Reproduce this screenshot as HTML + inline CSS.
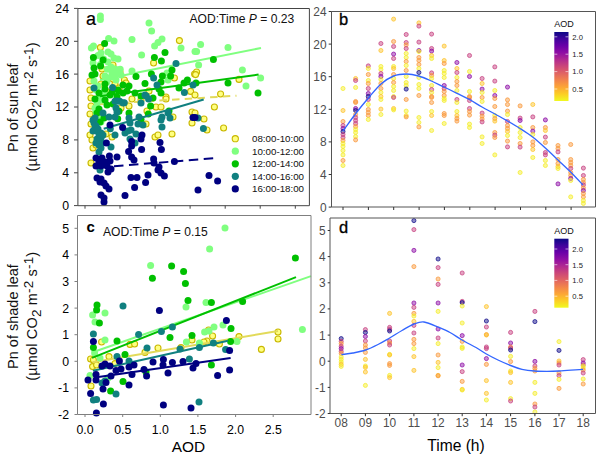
<!DOCTYPE html><html><head><meta charset="utf-8"><title>Pn vs AOD</title><style>
html,body{margin:0;padding:0;background:#fff}svg{display:block}text{font-family:"Liberation Sans",Arial,sans-serif}
.tk{font-size:12.3px;fill:#000}.tg{font-size:11.9px;fill:#4d4d4d}.lg{font-size:9.75px;fill:#111}.cb{font-size:7.6px;fill:#222}
</style></head><body>
<svg width="600" height="466" viewBox="0 0 600 466">
<defs><linearGradient id="pl" x1="0" y1="0" x2="0" y2="1">
<stop offset="0" stop-color="#0d0887"/>
<stop offset="0.1" stop-color="#41049d"/>
<stop offset="0.2" stop-color="#6a00a8"/>
<stop offset="0.3" stop-color="#8f0da4"/>
<stop offset="0.4" stop-color="#b12a90"/>
<stop offset="0.5" stop-color="#cc4778"/>
<stop offset="0.6" stop-color="#e16462"/>
<stop offset="0.7" stop-color="#f2844b"/>
<stop offset="0.8" stop-color="#fca636"/>
<stop offset="0.9" stop-color="#fcce25"/>
<stop offset="1" stop-color="#f0f921"/>
</linearGradient></defs>
<rect width="600" height="466" fill="#fff"/>
<g id="panel-a">
<g fill="#ffff80" stroke="#c9b800" stroke-width="1.1">
<circle cx="179.4" cy="40.6" r="3.0"/>
<circle cx="100.4" cy="47.6" r="3.0"/>
<circle cx="153.6" cy="63.0" r="3.0"/>
<circle cx="113.0" cy="65.0" r="3.0"/>
<circle cx="120.0" cy="72.0" r="3.0"/>
<circle cx="102.0" cy="69.0" r="3.0"/>
<circle cx="174.4" cy="78.0" r="3.0"/>
<circle cx="194.6" cy="74.0" r="3.0"/>
<circle cx="103.0" cy="76.0" r="3.0"/>
<circle cx="90.0" cy="81.0" r="3.0"/>
<circle cx="190.6" cy="91.4" r="3.0"/>
<circle cx="124.4" cy="80.0" r="3.0"/>
<circle cx="166.0" cy="97.0" r="3.0"/>
<circle cx="149.0" cy="91.0" r="3.0"/>
<circle cx="115.0" cy="84.0" r="3.0"/>
<circle cx="101.0" cy="84.0" r="3.0"/>
<circle cx="196.6" cy="72.0" r="3.0"/>
<circle cx="195.6" cy="74.6" r="3.0"/>
<circle cx="239.0" cy="79.4" r="3.0"/>
<circle cx="220.6" cy="94.0" r="3.0"/>
<circle cx="195.0" cy="95.0" r="3.0"/>
<circle cx="91.0" cy="106.0" r="3.0"/>
<circle cx="90.0" cy="114.0" r="3.0"/>
<circle cx="91.0" cy="124.0" r="3.0"/>
<circle cx="90.0" cy="135.0" r="3.0"/>
<circle cx="92.0" cy="140.0" r="3.0"/>
<circle cx="93.0" cy="148.0" r="3.0"/>
<circle cx="91.0" cy="163.0" r="3.0"/>
<circle cx="129.0" cy="106.0" r="3.0"/>
<circle cx="147.0" cy="111.0" r="3.0"/>
<circle cx="146.0" cy="124.0" r="3.0"/>
<circle cx="156.0" cy="107.0" r="3.0"/>
<circle cx="161.0" cy="107.0" r="3.0"/>
<circle cx="173.0" cy="117.0" r="3.0"/>
<circle cx="192.0" cy="112.0" r="3.0"/>
<circle cx="192.0" cy="123.0" r="3.0"/>
<circle cx="172.0" cy="134.0" r="3.0"/>
<circle cx="155.0" cy="137.0" r="3.0"/>
<circle cx="158.0" cy="135.0" r="3.0"/>
<circle cx="112.0" cy="137.0" r="3.0"/>
<circle cx="96.0" cy="145.0" r="3.0"/>
<circle cx="141.0" cy="100.0" r="3.0"/>
<circle cx="166.0" cy="99.0" r="3.0"/>
<circle cx="106.0" cy="134.0" r="3.0"/>
<circle cx="113.0" cy="79.0" r="3.0"/>
<circle cx="126.0" cy="83.0" r="3.0"/>
<circle cx="119.0" cy="88.0" r="3.0"/>
<circle cx="214.4" cy="107.0" r="3.0"/>
<circle cx="204.0" cy="119.0" r="3.0"/>
<circle cx="223.6" cy="128.0" r="3.0"/>
<circle cx="207.0" cy="130.0" r="3.0"/>
<circle cx="195.0" cy="113.0" r="3.0"/>
<circle cx="90.0" cy="90.0" r="3.0"/>
<circle cx="91.0" cy="98.0" r="3.0"/>
<circle cx="108.0" cy="92.0" r="3.0"/>
<circle cx="132.0" cy="99.0" r="3.0"/>
<circle cx="121.0" cy="108.0" r="3.0"/>
</g>
<line x1="96.0" y1="104.5" x2="236.5" y2="95.7" stroke="#e2da5a" stroke-width="2" stroke-dasharray="7.5 5.2"/>
<g fill="#80ff80">
<circle cx="100.4" cy="16.0" r="3.5"/>
<circle cx="100.4" cy="19.4" r="3.5"/>
<circle cx="149.0" cy="23.0" r="3.5"/>
<circle cx="151.6" cy="31.0" r="3.5"/>
<circle cx="132.0" cy="39.4" r="3.5"/>
<circle cx="162.0" cy="39.0" r="3.5"/>
<circle cx="158.0" cy="42.6" r="3.5"/>
<circle cx="154.6" cy="46.0" r="3.5"/>
<circle cx="108.6" cy="38.6" r="3.5"/>
<circle cx="114.0" cy="41.0" r="3.5"/>
<circle cx="91.4" cy="48.0" r="3.5"/>
<circle cx="181.0" cy="48.0" r="3.5"/>
<circle cx="141.6" cy="55.0" r="3.5"/>
<circle cx="195.0" cy="51.4" r="3.5"/>
<circle cx="101.0" cy="53.0" r="3.5"/>
<circle cx="108.0" cy="52.0" r="3.5"/>
<circle cx="111.0" cy="54.0" r="3.5"/>
<circle cx="114.0" cy="58.0" r="3.5"/>
<circle cx="118.0" cy="59.0" r="3.5"/>
<circle cx="93.0" cy="63.0" r="3.5"/>
<circle cx="111.0" cy="67.0" r="3.5"/>
<circle cx="115.0" cy="69.0" r="3.5"/>
<circle cx="118.0" cy="70.0" r="3.5"/>
<circle cx="132.0" cy="71.0" r="3.5"/>
<circle cx="105.0" cy="76.0" r="3.5"/>
<circle cx="111.0" cy="77.0" r="3.5"/>
<circle cx="168.0" cy="80.0" r="3.5"/>
<circle cx="94.0" cy="81.0" r="3.5"/>
<circle cx="167.0" cy="73.0" r="3.5"/>
<circle cx="200.6" cy="44.6" r="3.5"/>
<circle cx="196.6" cy="51.4" r="3.5"/>
<circle cx="228.0" cy="47.6" r="3.5"/>
<circle cx="198.6" cy="65.0" r="3.5"/>
<circle cx="242.4" cy="70.0" r="3.5"/>
<circle cx="260.6" cy="78.0" r="3.5"/>
<circle cx="246.0" cy="86.0" r="3.5"/>
<circle cx="108.0" cy="62.0" r="3.5"/>
<circle cx="112.0" cy="73.0" r="3.5"/>
<circle cx="121.0" cy="75.0" r="3.5"/>
<circle cx="116.0" cy="80.0" r="3.5"/>
<circle cx="98.0" cy="55.4" r="3.5"/>
<circle cx="103.6" cy="59.0" r="3.5"/>
<circle cx="100.4" cy="64.6" r="3.5"/>
<circle cx="107.3" cy="69.2" r="3.5"/>
<circle cx="120.2" cy="69.2" r="3.5"/>
<circle cx="116.5" cy="73.8" r="3.5"/>
<circle cx="93.5" cy="46.0" r="3.5"/>
<circle cx="95.0" cy="108.0" r="3.5"/>
<circle cx="96.0" cy="112.0" r="3.5"/>
<circle cx="99.0" cy="116.0" r="3.5"/>
<circle cx="101.0" cy="122.0" r="3.5"/>
<circle cx="97.0" cy="103.0" r="3.5"/>
<circle cx="102.0" cy="100.0" r="3.5"/>
<circle cx="100.0" cy="96.0" r="3.5"/>
<circle cx="104.0" cy="92.0" r="3.5"/>
<circle cx="96.0" cy="90.0" r="3.5"/>
<circle cx="107.0" cy="82.0" r="3.5"/>
<circle cx="98.0" cy="86.0" r="3.5"/>
</g>
<line x1="100.0" y1="80.0" x2="261.0" y2="48.0" stroke="#80ff80" stroke-width="2"/>
<g fill="#00c000">
<circle cx="104.6" cy="43.4" r="3.5"/>
<circle cx="165.0" cy="52.4" r="3.5"/>
<circle cx="154.4" cy="57.4" r="3.5"/>
<circle cx="161.4" cy="61.0" r="3.5"/>
<circle cx="93.4" cy="57.4" r="3.5"/>
<circle cx="103.0" cy="60.0" r="3.5"/>
<circle cx="100.6" cy="66.0" r="3.5"/>
<circle cx="94.0" cy="68.0" r="3.5"/>
<circle cx="95.0" cy="74.0" r="3.5"/>
<circle cx="92.0" cy="75.0" r="3.5"/>
<circle cx="136.0" cy="76.4" r="3.5"/>
<circle cx="151.4" cy="74.0" r="3.5"/>
<circle cx="162.4" cy="76.0" r="3.5"/>
<circle cx="172.0" cy="70.0" r="3.5"/>
<circle cx="170.6" cy="76.0" r="3.5"/>
<circle cx="145.0" cy="83.4" r="3.5"/>
<circle cx="123.0" cy="85.0" r="3.5"/>
<circle cx="129.0" cy="86.0" r="3.5"/>
<circle cx="105.0" cy="84.0" r="3.5"/>
<circle cx="161.0" cy="82.0" r="3.5"/>
<circle cx="187.4" cy="80.0" r="3.5"/>
<circle cx="184.0" cy="83.0" r="3.5"/>
<circle cx="179.0" cy="88.0" r="3.5"/>
<circle cx="159.0" cy="89.0" r="3.5"/>
<circle cx="135.0" cy="93.0" r="3.5"/>
<circle cx="123.0" cy="93.0" r="3.5"/>
<circle cx="105.0" cy="89.0" r="3.5"/>
<circle cx="99.0" cy="93.0" r="3.5"/>
<circle cx="161.0" cy="93.0" r="3.5"/>
<circle cx="213.4" cy="59.4" r="3.5"/>
<circle cx="228.0" cy="83.0" r="3.5"/>
<circle cx="258.0" cy="93.0" r="3.5"/>
<circle cx="196.0" cy="83.0" r="3.5"/>
<circle cx="95.0" cy="99.0" r="3.5"/>
<circle cx="105.0" cy="100.0" r="3.5"/>
<circle cx="107.0" cy="105.0" r="3.5"/>
<circle cx="99.0" cy="109.0" r="3.5"/>
<circle cx="97.0" cy="113.0" r="3.5"/>
<circle cx="104.0" cy="118.0" r="3.5"/>
<circle cx="100.0" cy="122.0" r="3.5"/>
<circle cx="129.0" cy="113.0" r="3.5"/>
<circle cx="150.6" cy="106.0" r="3.5"/>
<circle cx="169.0" cy="111.0" r="3.5"/>
<circle cx="113.0" cy="104.0" r="3.5"/>
<circle cx="141.0" cy="96.0" r="3.5"/>
<circle cx="117.0" cy="97.0" r="3.5"/>
<circle cx="153.0" cy="98.0" r="3.5"/>
<circle cx="110.0" cy="95.0" r="3.5"/>
<circle cx="112.0" cy="92.0" r="3.5"/>
<circle cx="118.0" cy="90.0" r="3.5"/>
<circle cx="127.0" cy="91.0" r="3.5"/>
<circle cx="141.0" cy="119.3" r="3.5"/>
<circle cx="117.7" cy="118.7" r="3.5"/>
<circle cx="119.0" cy="111.3" r="3.5"/>
<circle cx="148.3" cy="114.0" r="3.5"/>
</g>
<line x1="100.0" y1="96.3" x2="258.6" y2="74.6" stroke="#00c000" stroke-width="2"/>
<g fill="#108080">
<circle cx="176.0" cy="63.4" r="3.5"/>
<circle cx="153.6" cy="78.0" r="3.5"/>
<circle cx="157.0" cy="85.0" r="3.5"/>
<circle cx="94.0" cy="88.0" r="3.5"/>
<circle cx="112.6" cy="87.4" r="3.5"/>
<circle cx="184.4" cy="92.4" r="3.5"/>
<circle cx="145.0" cy="95.0" r="3.5"/>
<circle cx="193.0" cy="85.0" r="3.5"/>
<circle cx="117.0" cy="101.0" r="3.5"/>
<circle cx="123.0" cy="103.0" r="3.5"/>
<circle cx="141.0" cy="103.0" r="3.5"/>
<circle cx="116.0" cy="108.0" r="3.5"/>
<circle cx="117.0" cy="112.0" r="3.5"/>
<circle cx="115.0" cy="117.0" r="3.5"/>
<circle cx="103.0" cy="113.0" r="3.5"/>
<circle cx="109.0" cy="117.0" r="3.5"/>
<circle cx="95.0" cy="118.0" r="3.5"/>
<circle cx="94.0" cy="123.0" r="3.5"/>
<circle cx="95.0" cy="128.0" r="3.5"/>
<circle cx="97.0" cy="131.0" r="3.5"/>
<circle cx="99.0" cy="134.0" r="3.5"/>
<circle cx="101.0" cy="138.0" r="3.5"/>
<circle cx="100.0" cy="141.0" r="3.5"/>
<circle cx="99.0" cy="145.0" r="3.5"/>
<circle cx="129.0" cy="118.0" r="3.5"/>
<circle cx="130.0" cy="123.0" r="3.5"/>
<circle cx="128.0" cy="131.0" r="3.5"/>
<circle cx="125.0" cy="133.0" r="3.5"/>
<circle cx="139.0" cy="117.0" r="3.5"/>
<circle cx="138.0" cy="124.0" r="3.5"/>
<circle cx="143.0" cy="125.0" r="3.5"/>
<circle cx="136.0" cy="134.0" r="3.5"/>
<circle cx="130.0" cy="139.0" r="3.5"/>
<circle cx="135.0" cy="143.0" r="3.5"/>
<circle cx="115.0" cy="135.0" r="3.5"/>
<circle cx="111.0" cy="147.0" r="3.5"/>
<circle cx="99.0" cy="152.0" r="3.5"/>
<circle cx="162.0" cy="117.0" r="3.5"/>
<circle cx="161.0" cy="120.0" r="3.5"/>
<circle cx="162.0" cy="127.0" r="3.5"/>
<circle cx="168.0" cy="113.0" r="3.5"/>
<circle cx="170.0" cy="118.0" r="3.5"/>
<circle cx="100.0" cy="170.0" r="3.5"/>
<circle cx="148.6" cy="99.0" r="3.5"/>
<circle cx="198.0" cy="118.0" r="3.5"/>
<circle cx="203.4" cy="128.4" r="3.5"/>
<circle cx="93.0" cy="120.0" r="3.5"/>
<circle cx="96.0" cy="126.0" r="3.5"/>
<circle cx="93.0" cy="131.0" r="3.5"/>
<circle cx="98.0" cy="129.0" r="3.5"/>
<circle cx="101.0" cy="133.0" r="3.5"/>
<circle cx="103.0" cy="135.0" r="3.5"/>
<circle cx="97.0" cy="139.0" r="3.5"/>
<circle cx="102.0" cy="143.0" r="3.5"/>
<circle cx="96.0" cy="143.0" r="3.5"/>
<circle cx="101.0" cy="148.0" r="3.5"/>
<circle cx="110.3" cy="128.7" r="3.5"/>
<circle cx="115.0" cy="101.3" r="3.5"/>
<circle cx="119.7" cy="101.3" r="3.5"/>
<circle cx="124.3" cy="102.7" r="3.5"/>
<circle cx="131.0" cy="130.0" r="3.5"/>
<circle cx="146.3" cy="96.0" r="3.5"/>
</g>
<line x1="103.7" y1="128.7" x2="203.7" y2="99.5" stroke="#108080" stroke-width="2"/>
<g fill="#000080">
<circle cx="110.0" cy="125.0" r="3.5"/>
<circle cx="122.6" cy="127.6" r="3.5"/>
<circle cx="142.0" cy="135.0" r="3.5"/>
<circle cx="141.0" cy="139.0" r="3.5"/>
<circle cx="131.6" cy="141.6" r="3.5"/>
<circle cx="106.4" cy="143.0" r="3.5"/>
<circle cx="131.6" cy="146.0" r="3.5"/>
<circle cx="160.0" cy="142.4" r="3.5"/>
<circle cx="161.4" cy="149.6" r="3.5"/>
<circle cx="141.6" cy="149.4" r="3.5"/>
<circle cx="128.6" cy="151.6" r="3.5"/>
<circle cx="109.4" cy="156.0" r="3.5"/>
<circle cx="117.0" cy="157.0" r="3.5"/>
<circle cx="131.6" cy="157.0" r="3.5"/>
<circle cx="96.0" cy="158.0" r="3.5"/>
<circle cx="102.0" cy="158.0" r="3.5"/>
<circle cx="134.0" cy="160.0" r="3.5"/>
<circle cx="153.6" cy="159.0" r="3.5"/>
<circle cx="174.4" cy="161.4" r="3.5"/>
<circle cx="99.0" cy="162.0" r="3.5"/>
<circle cx="105.0" cy="162.0" r="3.5"/>
<circle cx="110.0" cy="161.0" r="3.5"/>
<circle cx="96.0" cy="166.0" r="3.5"/>
<circle cx="101.0" cy="166.0" r="3.5"/>
<circle cx="107.0" cy="166.0" r="3.5"/>
<circle cx="111.0" cy="169.0" r="3.5"/>
<circle cx="108.0" cy="172.0" r="3.5"/>
<circle cx="154.0" cy="163.0" r="3.5"/>
<circle cx="159.0" cy="167.0" r="3.5"/>
<circle cx="158.0" cy="170.0" r="3.5"/>
<circle cx="161.0" cy="173.0" r="3.5"/>
<circle cx="164.4" cy="176.0" r="3.5"/>
<circle cx="148.0" cy="175.0" r="3.5"/>
<circle cx="131.0" cy="177.4" r="3.5"/>
<circle cx="137.0" cy="177.4" r="3.5"/>
<circle cx="145.6" cy="182.4" r="3.5"/>
<circle cx="134.6" cy="187.6" r="3.5"/>
<circle cx="97.0" cy="178.0" r="3.5"/>
<circle cx="101.0" cy="179.0" r="3.5"/>
<circle cx="100.0" cy="182.0" r="3.5"/>
<circle cx="104.0" cy="183.0" r="3.5"/>
<circle cx="106.0" cy="186.0" r="3.5"/>
<circle cx="109.0" cy="189.0" r="3.5"/>
<circle cx="193.0" cy="117.4" r="3.5"/>
<circle cx="101.0" cy="195.0" r="3.5"/>
<circle cx="104.0" cy="198.0" r="3.5"/>
<circle cx="104.0" cy="202.0" r="3.5"/>
<circle cx="125.0" cy="195.6" r="3.5"/>
<circle cx="195.0" cy="117.4" r="3.5"/>
<circle cx="209.0" cy="175.4" r="3.5"/>
<circle cx="217.6" cy="181.0" r="3.5"/>
<circle cx="198.0" cy="190.0" r="3.5"/>
</g>
<line x1="114.0" y1="166.2" x2="217.0" y2="158.0" stroke="#000080" stroke-width="2" stroke-dasharray="9.5 5.5"/>
<path d="M77.9 8.5H309.4V205.7H77.9Z" fill="none" stroke="#444" stroke-width="1"/>
<line x1="74" x2="77.9" y1="8.4" y2="8.4" stroke="#444"/>
<text class="tk" x="69" y="12.8" text-anchor="end">24</text>
<line x1="74" x2="77.9" y1="41.3" y2="41.3" stroke="#444"/>
<text class="tk" x="69" y="45.7" text-anchor="end">20</text>
<line x1="74" x2="77.9" y1="74.1" y2="74.1" stroke="#444"/>
<text class="tk" x="69" y="78.5" text-anchor="end">16</text>
<line x1="74" x2="77.9" y1="107.0" y2="107.0" stroke="#444"/>
<text class="tk" x="69" y="111.4" text-anchor="end">12</text>
<line x1="74" x2="77.9" y1="139.9" y2="139.9" stroke="#444"/>
<text class="tk" x="69" y="144.3" text-anchor="end">8</text>
<line x1="74" x2="77.9" y1="172.8" y2="172.8" stroke="#444"/>
<text class="tk" x="69" y="177.2" text-anchor="end">4</text>
<line x1="74" x2="77.9" y1="205.6" y2="205.6" stroke="#444"/>
<text class="tk" x="69" y="210.0" text-anchor="end">0</text>
<line x1="85.0" x2="85.0" y1="205.7" y2="208.7" stroke="#444"/>
<line x1="120.0" x2="120.0" y1="205.7" y2="208.7" stroke="#444"/>
<line x1="155.1" x2="155.1" y1="205.7" y2="208.7" stroke="#444"/>
<line x1="190.1" x2="190.1" y1="205.7" y2="208.7" stroke="#444"/>
<line x1="225.2" x2="225.2" y1="205.7" y2="208.7" stroke="#444"/>
<line x1="260.2" x2="260.2" y1="205.7" y2="208.7" stroke="#444"/>
<line x1="295.3" x2="295.3" y1="205.7" y2="208.7" stroke="#444"/>
<text x="86" y="25" font-size="18px" stroke="#000" stroke-width="0.2">a</text>
<text x="189.5" y="22.6" font-size="12.1px" fill="#111">AOD:Time <tspan font-style="italic">P</tspan> = 0.23</text>
<circle cx="235.3" cy="138.7" r="3.1" fill="#ffff80" stroke="#c9b800" stroke-width="1.1"/>
<text class="lg" x="252" y="142.2">08:00-10:00</text>
<circle cx="235.3" cy="151.2" r="3.6" fill="#80ff80"/>
<text class="lg" x="252" y="154.8">10:00-12:00</text>
<circle cx="235.3" cy="163.8" r="3.6" fill="#00c000"/>
<text class="lg" x="252" y="167.3">12:00-14:00</text>
<circle cx="235.3" cy="176.3" r="3.6" fill="#108080"/>
<text class="lg" x="252" y="179.8">14:00-16:00</text>
<circle cx="235.3" cy="188.9" r="3.6" fill="#000080"/>
<text class="lg" x="252" y="192.4">16:00-18:00</text>
<text transform="translate(17.5,107.7) rotate(-90)" text-anchor="middle" font-size="14.5px" fill="#111">Pn of sun leaf</text>
<text transform="translate(37.3,107) rotate(-90)" text-anchor="middle" textLength="129" font-size="14.5px" fill="#111">(µmol CO<tspan font-size="13.5px" dy="3.5">2</tspan><tspan dy="-3.5"> m</tspan><tspan font-size="13.5px" dy="-4">-2</tspan><tspan dy="4"> s</tspan><tspan font-size="13.5px" dy="-4">-1</tspan><tspan dy="4">)</tspan></text>
</g>
<g id="panel-c">
<g fill="#ffff80" stroke="#c9b800" stroke-width="1.1">
<circle cx="101.6" cy="342.0" r="3.0"/>
<circle cx="130.0" cy="344.4" r="3.0"/>
<circle cx="134.6" cy="344.0" r="3.0"/>
<circle cx="158.0" cy="348.0" r="3.0"/>
<circle cx="145.0" cy="352.4" r="3.0"/>
<circle cx="181.0" cy="347.6" r="3.0"/>
<circle cx="192.0" cy="340.0" r="3.0"/>
<circle cx="109.0" cy="356.6" r="3.0"/>
<circle cx="90.6" cy="359.0" r="3.0"/>
<circle cx="93.4" cy="360.0" r="3.0"/>
<circle cx="92.6" cy="366.6" r="3.0"/>
<circle cx="96.6" cy="365.0" r="3.0"/>
<circle cx="115.0" cy="363.6" r="3.0"/>
<circle cx="91.0" cy="386.0" r="3.0"/>
<circle cx="212.6" cy="336.0" r="3.0"/>
<circle cx="208.6" cy="330.0" r="3.0"/>
<circle cx="207.0" cy="341.0" r="3.0"/>
<circle cx="204.0" cy="342.0" r="3.0"/>
<circle cx="219.4" cy="344.0" r="3.0"/>
<circle cx="239.0" cy="336.6" r="3.0"/>
<circle cx="278.0" cy="332.0" r="3.0"/>
<circle cx="278.0" cy="339.0" r="3.0"/>
<circle cx="261.4" cy="349.4" r="3.0"/>
</g>
<line x1="92.5" y1="362.3" x2="278.0" y2="331.0" stroke="#e2da5a" stroke-width="2"/>
<g fill="#80ff80">
<circle cx="150.6" cy="265.6" r="3.5"/>
<circle cx="186.0" cy="307.0" r="3.5"/>
<circle cx="225.0" cy="228.0" r="3.5"/>
<circle cx="209.6" cy="249.0" r="3.5"/>
<circle cx="206.0" cy="302.4" r="3.5"/>
<circle cx="92.6" cy="315.0" r="3.5"/>
<circle cx="105.0" cy="313.0" r="3.5"/>
<circle cx="95.0" cy="322.0" r="3.5"/>
<circle cx="105.0" cy="340.0" r="3.5"/>
<circle cx="186.4" cy="342.0" r="3.5"/>
<circle cx="94.6" cy="353.0" r="3.5"/>
<circle cx="100.0" cy="358.0" r="3.5"/>
<circle cx="90.0" cy="375.6" r="3.5"/>
<circle cx="214.0" cy="327.0" r="3.5"/>
<circle cx="223.0" cy="325.0" r="3.5"/>
<circle cx="204.6" cy="332.0" r="3.5"/>
<circle cx="209.0" cy="331.0" r="3.5"/>
<circle cx="237.0" cy="341.6" r="3.5"/>
<circle cx="199.4" cy="343.0" r="3.5"/>
<circle cx="302.4" cy="329.6" r="3.5"/>
<circle cx="108.0" cy="378.0" r="3.5"/>
</g>
<line x1="92.0" y1="352.5" x2="311.0" y2="276.1" stroke="#80ff80" stroke-width="2"/>
<g fill="#00c000">
<circle cx="171.6" cy="266.0" r="3.5"/>
<circle cx="183.6" cy="271.6" r="3.5"/>
<circle cx="152.4" cy="278.2" r="3.5"/>
<circle cx="185.4" cy="283.6" r="3.5"/>
<circle cx="188.0" cy="300.6" r="3.5"/>
<circle cx="97.0" cy="305.0" r="3.5"/>
<circle cx="295.4" cy="258.0" r="3.5"/>
<circle cx="211.4" cy="302.4" r="3.5"/>
<circle cx="242.6" cy="301.4" r="3.5"/>
<circle cx="96.6" cy="310.0" r="3.5"/>
<circle cx="99.4" cy="323.0" r="3.5"/>
<circle cx="117.0" cy="341.0" r="3.5"/>
<circle cx="170.0" cy="337.6" r="3.5"/>
<circle cx="192.0" cy="335.6" r="3.5"/>
<circle cx="125.0" cy="354.4" r="3.5"/>
<circle cx="93.4" cy="347.6" r="3.5"/>
<circle cx="123.0" cy="381.4" r="3.5"/>
<circle cx="110.6" cy="391.0" r="3.5"/>
<circle cx="231.0" cy="328.4" r="3.5"/>
<circle cx="230.6" cy="341.4" r="3.5"/>
<circle cx="211.4" cy="365.0" r="3.5"/>
<circle cx="146.0" cy="372.0" r="3.5"/>
</g>
<line x1="92.0" y1="357.9" x2="296.0" y2="277.1" stroke="#00c000" stroke-width="2"/>
<g fill="#108080">
<circle cx="123.0" cy="306.0" r="3.5"/>
<circle cx="93.4" cy="334.0" r="3.5"/>
<circle cx="138.6" cy="334.4" r="3.5"/>
<circle cx="161.4" cy="331.6" r="3.5"/>
<circle cx="172.4" cy="327.0" r="3.5"/>
<circle cx="147.0" cy="348.0" r="3.5"/>
<circle cx="117.0" cy="356.6" r="3.5"/>
<circle cx="129.0" cy="361.0" r="3.5"/>
<circle cx="180.0" cy="349.0" r="3.5"/>
<circle cx="189.4" cy="359.0" r="3.5"/>
<circle cx="105.0" cy="381.0" r="3.5"/>
<circle cx="102.0" cy="383.0" r="3.5"/>
<circle cx="116.0" cy="394.0" r="3.5"/>
<circle cx="199.4" cy="347.6" r="3.5"/>
<circle cx="213.4" cy="343.0" r="3.5"/>
<circle cx="225.6" cy="349.4" r="3.5"/>
<circle cx="93.4" cy="400.0" r="3.5"/>
<circle cx="96.6" cy="399.4" r="3.5"/>
<circle cx="199.0" cy="402.0" r="3.5"/>
</g>
<line x1="93.0" y1="370.8" x2="228.0" y2="340.7" stroke="#108080" stroke-width="2"/>
<g fill="#000080">
<circle cx="159.4" cy="310.4" r="3.5"/>
<circle cx="93.4" cy="341.4" r="3.5"/>
<circle cx="119.4" cy="361.0" r="3.5"/>
<circle cx="105.0" cy="364.0" r="3.5"/>
<circle cx="102.0" cy="366.0" r="3.5"/>
<circle cx="110.0" cy="366.0" r="3.5"/>
<circle cx="134.0" cy="365.0" r="3.5"/>
<circle cx="129.0" cy="367.0" r="3.5"/>
<circle cx="121.0" cy="369.0" r="3.5"/>
<circle cx="116.0" cy="370.4" r="3.5"/>
<circle cx="144.0" cy="369.4" r="3.5"/>
<circle cx="153.0" cy="362.0" r="3.5"/>
<circle cx="163.4" cy="359.4" r="3.5"/>
<circle cx="163.0" cy="365.0" r="3.5"/>
<circle cx="172.4" cy="362.4" r="3.5"/>
<circle cx="183.0" cy="361.4" r="3.5"/>
<circle cx="193.0" cy="368.0" r="3.5"/>
<circle cx="168.0" cy="373.0" r="3.5"/>
<circle cx="146.6" cy="376.0" r="3.5"/>
<circle cx="132.0" cy="374.4" r="3.5"/>
<circle cx="111.0" cy="376.0" r="3.5"/>
<circle cx="96.0" cy="374.4" r="3.5"/>
<circle cx="88.0" cy="380.0" r="3.5"/>
<circle cx="96.0" cy="380.0" r="3.5"/>
<circle cx="106.0" cy="382.4" r="3.5"/>
<circle cx="129.0" cy="385.0" r="3.5"/>
<circle cx="103.0" cy="389.0" r="3.5"/>
<circle cx="90.6" cy="393.6" r="3.5"/>
<circle cx="226.4" cy="320.6" r="3.5"/>
<circle cx="229.6" cy="350.6" r="3.5"/>
<circle cx="229.6" cy="370.0" r="3.5"/>
<circle cx="217.6" cy="375.4" r="3.5"/>
<circle cx="196.0" cy="363.6" r="3.5"/>
<circle cx="103.4" cy="404.0" r="3.5"/>
<circle cx="96.4" cy="413.0" r="3.5"/>
<circle cx="163.4" cy="405.0" r="3.5"/>
<circle cx="191.0" cy="408.0" r="3.5"/>
</g>
<line x1="95.0" y1="377.5" x2="230.6" y2="358.0" stroke="#000080" stroke-width="2"/>
<path d="M77.5 215.5H311.0V414.5H77.5Z" fill="none" stroke="#7f7f7f" stroke-width="1"/>
<line x1="74.5" x2="77.5" y1="228.3" y2="228.3" stroke="#7f7f7f"/>
<text class="tk" x="69" y="232.7" text-anchor="end">5</text>
<line x1="74.5" x2="77.5" y1="254.9" y2="254.9" stroke="#7f7f7f"/>
<text class="tk" x="69" y="259.3" text-anchor="end">4</text>
<line x1="74.5" x2="77.5" y1="281.5" y2="281.5" stroke="#7f7f7f"/>
<text class="tk" x="69" y="285.9" text-anchor="end">3</text>
<line x1="74.5" x2="77.5" y1="308.1" y2="308.1" stroke="#7f7f7f"/>
<text class="tk" x="69" y="312.5" text-anchor="end">2</text>
<line x1="74.5" x2="77.5" y1="334.7" y2="334.7" stroke="#7f7f7f"/>
<text class="tk" x="69" y="339.1" text-anchor="end">1</text>
<line x1="74.5" x2="77.5" y1="361.3" y2="361.3" stroke="#7f7f7f"/>
<text class="tk" x="69" y="365.7" text-anchor="end">0</text>
<line x1="74.5" x2="77.5" y1="387.9" y2="387.9" stroke="#7f7f7f"/>
<text class="tk" x="69" y="392.3" text-anchor="end">-1</text>
<line x1="74.5" x2="77.5" y1="414.5" y2="414.5" stroke="#7f7f7f"/>
<text class="tk" x="69" y="418.9" text-anchor="end">-2</text>
<line x1="85.0" x2="85.0" y1="414.5" y2="417" stroke="#7f7f7f"/>
<text class="tk" x="85.0" y="434" text-anchor="middle">0.0</text>
<line x1="122.7" x2="122.7" y1="414.5" y2="417" stroke="#7f7f7f"/>
<text class="tk" x="122.7" y="434" text-anchor="middle">0.5</text>
<line x1="160.3" x2="160.3" y1="414.5" y2="417" stroke="#7f7f7f"/>
<text class="tk" x="160.3" y="434" text-anchor="middle">1.0</text>
<line x1="197.9" x2="197.9" y1="414.5" y2="417" stroke="#7f7f7f"/>
<text class="tk" x="197.9" y="434" text-anchor="middle">1.5</text>
<line x1="235.6" x2="235.6" y1="414.5" y2="417" stroke="#7f7f7f"/>
<text class="tk" x="235.6" y="434" text-anchor="middle">2.0</text>
<line x1="273.2" x2="273.2" y1="414.5" y2="417" stroke="#7f7f7f"/>
<text class="tk" x="273.2" y="434" text-anchor="middle">2.5</text>
<text x="86.5" y="232.4" font-size="15px" font-weight="bold">c</text>
<text x="103" y="235.6" font-size="12.1px" fill="#111">AOD:Time <tspan font-style="italic">P</tspan> = 0.15</text>
<text x="188.5" y="451.6" text-anchor="middle" font-size="15.4px">AOD</text>
<text transform="translate(17.8,316.5) rotate(-90)" text-anchor="middle" font-size="14.5px" fill="#111">Pn of shade leaf</text>
<text transform="translate(37.3,316.3) rotate(-90)" text-anchor="middle" textLength="129" font-size="14.5px" fill="#111">(µmol CO<tspan font-size="13.5px" dy="3.5">2</tspan><tspan dy="-3.5"> m</tspan><tspan font-size="13.5px" dy="-4">-2</tspan><tspan dy="4"> s</tspan><tspan font-size="13.5px" dy="-4">-1</tspan><tspan dy="4">)</tspan></text>
</g>
<g id="panel-b">
<g stroke-width="0.9" fill-opacity="0.48" stroke-opacity="0.8">
<circle cx="343.0" cy="88.5" r="2.05" fill="#f4ed27" stroke="#f4ed27"/>
<circle cx="343.0" cy="110.5" r="2.05" fill="#fdc328" stroke="#fdc328"/>
<circle cx="343.0" cy="121.5" r="2.05" fill="#f9983a" stroke="#f9983a"/>
<circle cx="343.0" cy="125.5" r="2.05" fill="#c63f7f" stroke="#c63f7f"/>
<circle cx="343.0" cy="128.5" r="2.05" fill="#8b0aa5" stroke="#8b0aa5"/>
<circle cx="343.0" cy="131.5" r="2.05" fill="#0d0887" stroke="#0d0887"/>
<circle cx="343.0" cy="134.5" r="2.05" fill="#c63f7f" stroke="#c63f7f"/>
<circle cx="343.0" cy="137.5" r="2.05" fill="#c63f7f" stroke="#c63f7f"/>
<circle cx="343.0" cy="140.5" r="2.05" fill="#f9983a" stroke="#f9983a"/>
<circle cx="343.0" cy="143.5" r="2.05" fill="#f4ed27" stroke="#f4ed27"/>
<circle cx="343.0" cy="146.5" r="2.05" fill="#f4ed27" stroke="#f4ed27"/>
<circle cx="343.0" cy="150.5" r="2.05" fill="#f4ed27" stroke="#f4ed27"/>
<circle cx="343.0" cy="154.9" r="2.05" fill="#f4ed27" stroke="#f4ed27"/>
<circle cx="343.0" cy="160.5" r="2.05" fill="#f9983a" stroke="#f9983a"/>
<circle cx="343.0" cy="165.5" r="2.05" fill="#f4ed27" stroke="#f4ed27"/>
<circle cx="355.6" cy="78.5" r="2.05" fill="#fdc328" stroke="#fdc328"/>
<circle cx="355.6" cy="80.5" r="2.05" fill="#c63f7f" stroke="#c63f7f"/>
<circle cx="355.6" cy="87.5" r="2.05" fill="#f4ed27" stroke="#f4ed27"/>
<circle cx="355.6" cy="101.5" r="2.05" fill="#f9983a" stroke="#f9983a"/>
<circle cx="355.6" cy="102.5" r="2.05" fill="#f9983a" stroke="#f9983a"/>
<circle cx="355.6" cy="108.5" r="2.05" fill="#8b0aa5" stroke="#8b0aa5"/>
<circle cx="355.6" cy="110.5" r="2.05" fill="#0d0887" stroke="#0d0887"/>
<circle cx="355.6" cy="114.5" r="2.05" fill="#f9983a" stroke="#f9983a"/>
<circle cx="355.6" cy="117.5" r="2.05" fill="#c63f7f" stroke="#c63f7f"/>
<circle cx="355.6" cy="120.5" r="2.05" fill="#c63f7f" stroke="#c63f7f"/>
<circle cx="355.6" cy="123.5" r="2.05" fill="#c63f7f" stroke="#c63f7f"/>
<circle cx="355.6" cy="126.5" r="2.05" fill="#f9983a" stroke="#f9983a"/>
<circle cx="355.6" cy="129.5" r="2.05" fill="#f4ed27" stroke="#f4ed27"/>
<circle cx="355.6" cy="132.5" r="2.05" fill="#f4ed27" stroke="#f4ed27"/>
<circle cx="355.6" cy="136.5" r="2.05" fill="#f4ed27" stroke="#f4ed27"/>
<circle cx="355.6" cy="139.9" r="2.05" fill="#f9983a" stroke="#f9983a"/>
<circle cx="368.3" cy="65.9" r="2.05" fill="#c63f7f" stroke="#c63f7f"/>
<circle cx="368.3" cy="68.5" r="2.05" fill="#f4ed27" stroke="#f4ed27"/>
<circle cx="368.3" cy="74.5" r="2.05" fill="#f9983a" stroke="#f9983a"/>
<circle cx="368.3" cy="80.5" r="2.05" fill="#f4ed27" stroke="#f4ed27"/>
<circle cx="368.3" cy="83.5" r="2.05" fill="#f9983a" stroke="#f9983a"/>
<circle cx="368.3" cy="88.5" r="2.05" fill="#c63f7f" stroke="#c63f7f"/>
<circle cx="368.3" cy="93.5" r="2.05" fill="#8b0aa5" stroke="#8b0aa5"/>
<circle cx="368.3" cy="96.5" r="2.05" fill="#0d0887" stroke="#0d0887"/>
<circle cx="368.3" cy="99.5" r="2.05" fill="#c63f7f" stroke="#c63f7f"/>
<circle cx="368.3" cy="104.5" r="2.05" fill="#f4ed27" stroke="#f4ed27"/>
<circle cx="368.3" cy="109.5" r="2.05" fill="#f9983a" stroke="#f9983a"/>
<circle cx="368.3" cy="112.5" r="2.05" fill="#f9983a" stroke="#f9983a"/>
<circle cx="368.3" cy="115.5" r="2.05" fill="#f9983a" stroke="#f9983a"/>
<circle cx="368.3" cy="119.5" r="2.05" fill="#f4ed27" stroke="#f4ed27"/>
<circle cx="380.9" cy="43.5" r="2.05" fill="#c63f7f" stroke="#c63f7f"/>
<circle cx="380.9" cy="50.5" r="2.05" fill="#fdc328" stroke="#fdc328"/>
<circle cx="380.9" cy="66.5" r="2.05" fill="#f4ed27" stroke="#f4ed27"/>
<circle cx="380.9" cy="69.5" r="2.05" fill="#f4ed27" stroke="#f4ed27"/>
<circle cx="380.9" cy="73.5" r="2.05" fill="#c63f7f" stroke="#c63f7f"/>
<circle cx="380.9" cy="76.5" r="2.05" fill="#8b0aa5" stroke="#8b0aa5"/>
<circle cx="380.9" cy="79.5" r="2.05" fill="#f4ed27" stroke="#f4ed27"/>
<circle cx="380.9" cy="83.5" r="2.05" fill="#f9983a" stroke="#f9983a"/>
<circle cx="380.9" cy="88.5" r="2.05" fill="#f9983a" stroke="#f9983a"/>
<circle cx="380.9" cy="92.5" r="2.05" fill="#f4ed27" stroke="#f4ed27"/>
<circle cx="380.9" cy="96.5" r="2.05" fill="#fdc328" stroke="#fdc328"/>
<circle cx="380.9" cy="99.5" r="2.05" fill="#f4ed27" stroke="#f4ed27"/>
<circle cx="380.9" cy="109.1" r="2.05" fill="#fdc328" stroke="#fdc328"/>
<circle cx="380.9" cy="114.5" r="2.05" fill="#f4ed27" stroke="#f4ed27"/>
<circle cx="393.6" cy="19.1" r="2.05" fill="#fdc328" stroke="#fdc328"/>
<circle cx="393.6" cy="41.5" r="2.05" fill="#f9983a" stroke="#f9983a"/>
<circle cx="393.6" cy="46.5" r="2.05" fill="#c63f7f" stroke="#c63f7f"/>
<circle cx="393.6" cy="54.1" r="2.05" fill="#8b0aa5" stroke="#8b0aa5"/>
<circle cx="393.6" cy="58.5" r="2.05" fill="#c63f7f" stroke="#c63f7f"/>
<circle cx="393.6" cy="66.5" r="2.05" fill="#f4ed27" stroke="#f4ed27"/>
<circle cx="393.6" cy="68.5" r="2.05" fill="#fdc328" stroke="#fdc328"/>
<circle cx="393.6" cy="74.5" r="2.05" fill="#f9983a" stroke="#f9983a"/>
<circle cx="393.6" cy="78.5" r="2.05" fill="#f4ed27" stroke="#f4ed27"/>
<circle cx="393.6" cy="82.5" r="2.05" fill="#f9983a" stroke="#f9983a"/>
<circle cx="393.6" cy="86.5" r="2.05" fill="#f4ed27" stroke="#f4ed27"/>
<circle cx="393.6" cy="90.5" r="2.05" fill="#f4ed27" stroke="#f4ed27"/>
<circle cx="393.6" cy="96.5" r="2.05" fill="#f4ed27" stroke="#f4ed27"/>
<circle cx="393.6" cy="97.5" r="2.05" fill="#c63f7f" stroke="#c63f7f"/>
<circle cx="393.6" cy="108.5" r="2.05" fill="#fdc328" stroke="#fdc328"/>
<circle cx="393.6" cy="109.9" r="2.05" fill="#f4ed27" stroke="#f4ed27"/>
<circle cx="406.2" cy="34.5" r="2.05" fill="#c63f7f" stroke="#c63f7f"/>
<circle cx="406.2" cy="42.5" r="2.05" fill="#c63f7f" stroke="#c63f7f"/>
<circle cx="406.2" cy="44.9" r="2.05" fill="#f9983a" stroke="#f9983a"/>
<circle cx="406.2" cy="48.5" r="2.05" fill="#c63f7f" stroke="#c63f7f"/>
<circle cx="406.2" cy="53.5" r="2.05" fill="#f4ed27" stroke="#f4ed27"/>
<circle cx="406.2" cy="57.5" r="2.05" fill="#f4ed27" stroke="#f4ed27"/>
<circle cx="406.2" cy="61.5" r="2.05" fill="#f9983a" stroke="#f9983a"/>
<circle cx="406.2" cy="65.5" r="2.05" fill="#f4ed27" stroke="#f4ed27"/>
<circle cx="406.2" cy="70.5" r="2.05" fill="#f9983a" stroke="#f9983a"/>
<circle cx="406.2" cy="76.5" r="2.05" fill="#f4ed27" stroke="#f4ed27"/>
<circle cx="406.2" cy="82.5" r="2.05" fill="#f4ed27" stroke="#f4ed27"/>
<circle cx="406.2" cy="85.5" r="2.05" fill="#f4ed27" stroke="#f4ed27"/>
<circle cx="406.2" cy="89.1" r="2.05" fill="#0d0887" stroke="#0d0887"/>
<circle cx="406.2" cy="99.5" r="2.05" fill="#f9983a" stroke="#f9983a"/>
<circle cx="406.2" cy="111.1" r="2.05" fill="#f4ed27" stroke="#f4ed27"/>
<circle cx="406.2" cy="115.5" r="2.05" fill="#f4ed27" stroke="#f4ed27"/>
<circle cx="406.2" cy="116.9" r="2.05" fill="#f9983a" stroke="#f9983a"/>
<circle cx="418.9" cy="22.9" r="2.05" fill="#fdc328" stroke="#fdc328"/>
<circle cx="418.9" cy="26.1" r="2.05" fill="#c63f7f" stroke="#c63f7f"/>
<circle cx="418.9" cy="42.1" r="2.05" fill="#c63f7f" stroke="#c63f7f"/>
<circle cx="418.9" cy="50.5" r="2.05" fill="#8b0aa5" stroke="#8b0aa5"/>
<circle cx="418.9" cy="51.5" r="2.05" fill="#f4ed27" stroke="#f4ed27"/>
<circle cx="418.9" cy="57.5" r="2.05" fill="#f9983a" stroke="#f9983a"/>
<circle cx="418.9" cy="60.5" r="2.05" fill="#f9983a" stroke="#f9983a"/>
<circle cx="418.9" cy="64.5" r="2.05" fill="#f9983a" stroke="#f9983a"/>
<circle cx="418.9" cy="68.5" r="2.05" fill="#f4ed27" stroke="#f4ed27"/>
<circle cx="418.9" cy="72.5" r="2.05" fill="#0d0887" stroke="#0d0887"/>
<circle cx="418.9" cy="77.5" r="2.05" fill="#f4ed27" stroke="#f4ed27"/>
<circle cx="418.9" cy="84.5" r="2.05" fill="#f4ed27" stroke="#f4ed27"/>
<circle cx="418.9" cy="88.5" r="2.05" fill="#f4ed27" stroke="#f4ed27"/>
<circle cx="418.9" cy="95.5" r="2.05" fill="#f9983a" stroke="#f9983a"/>
<circle cx="418.9" cy="117.5" r="2.05" fill="#f4ed27" stroke="#f4ed27"/>
<circle cx="418.9" cy="122.5" r="2.05" fill="#f4ed27" stroke="#f4ed27"/>
<circle cx="418.9" cy="126.9" r="2.05" fill="#f9983a" stroke="#f9983a"/>
<circle cx="431.6" cy="34.1" r="2.05" fill="#c63f7f" stroke="#c63f7f"/>
<circle cx="431.6" cy="48.5" r="2.05" fill="#c63f7f" stroke="#c63f7f"/>
<circle cx="431.6" cy="51.1" r="2.05" fill="#8b0aa5" stroke="#8b0aa5"/>
<circle cx="431.6" cy="55.5" r="2.05" fill="#fdc328" stroke="#fdc328"/>
<circle cx="431.6" cy="58.5" r="2.05" fill="#f4ed27" stroke="#f4ed27"/>
<circle cx="431.6" cy="72.9" r="2.05" fill="#c63f7f" stroke="#c63f7f"/>
<circle cx="431.6" cy="75.5" r="2.05" fill="#f9983a" stroke="#f9983a"/>
<circle cx="431.6" cy="78.5" r="2.05" fill="#f4ed27" stroke="#f4ed27"/>
<circle cx="431.6" cy="85.5" r="2.05" fill="#f4ed27" stroke="#f4ed27"/>
<circle cx="431.6" cy="89.5" r="2.05" fill="#c63f7f" stroke="#c63f7f"/>
<circle cx="431.6" cy="92.5" r="2.05" fill="#f4ed27" stroke="#f4ed27"/>
<circle cx="431.6" cy="96.5" r="2.05" fill="#f9983a" stroke="#f9983a"/>
<circle cx="431.6" cy="97.5" r="2.05" fill="#f9983a" stroke="#f9983a"/>
<circle cx="431.6" cy="102.5" r="2.05" fill="#f9983a" stroke="#f9983a"/>
<circle cx="431.6" cy="111.5" r="2.05" fill="#f4ed27" stroke="#f4ed27"/>
<circle cx="431.6" cy="115.5" r="2.05" fill="#fdc328" stroke="#fdc328"/>
<circle cx="431.6" cy="130.5" r="2.05" fill="#f4ed27" stroke="#f4ed27"/>
<circle cx="444.2" cy="46.1" r="2.05" fill="#fdc328" stroke="#fdc328"/>
<circle cx="444.2" cy="60.5" r="2.05" fill="#fdc328" stroke="#fdc328"/>
<circle cx="444.2" cy="63.5" r="2.05" fill="#f9983a" stroke="#f9983a"/>
<circle cx="444.2" cy="70.5" r="2.05" fill="#f4ed27" stroke="#f4ed27"/>
<circle cx="444.2" cy="73.5" r="2.05" fill="#f4ed27" stroke="#f4ed27"/>
<circle cx="444.2" cy="77.5" r="2.05" fill="#f4ed27" stroke="#f4ed27"/>
<circle cx="444.2" cy="85.5" r="2.05" fill="#8b0aa5" stroke="#8b0aa5"/>
<circle cx="444.2" cy="88.5" r="2.05" fill="#c63f7f" stroke="#c63f7f"/>
<circle cx="444.2" cy="91.5" r="2.05" fill="#f9983a" stroke="#f9983a"/>
<circle cx="444.2" cy="95.5" r="2.05" fill="#f9983a" stroke="#f9983a"/>
<circle cx="444.2" cy="98.5" r="2.05" fill="#f4ed27" stroke="#f4ed27"/>
<circle cx="444.2" cy="100.5" r="2.05" fill="#f4ed27" stroke="#f4ed27"/>
<circle cx="444.2" cy="113.5" r="2.05" fill="#f9983a" stroke="#f9983a"/>
<circle cx="444.2" cy="115.5" r="2.05" fill="#f9983a" stroke="#f9983a"/>
<circle cx="444.2" cy="123.5" r="2.05" fill="#f4ed27" stroke="#f4ed27"/>
<circle cx="456.9" cy="62.5" r="2.05" fill="#8b0aa5" stroke="#8b0aa5"/>
<circle cx="456.9" cy="68.5" r="2.05" fill="#fdc328" stroke="#fdc328"/>
<circle cx="456.9" cy="72.5" r="2.05" fill="#c63f7f" stroke="#c63f7f"/>
<circle cx="456.9" cy="77.5" r="2.05" fill="#f4ed27" stroke="#f4ed27"/>
<circle cx="456.9" cy="81.5" r="2.05" fill="#f9983a" stroke="#f9983a"/>
<circle cx="456.9" cy="85.5" r="2.05" fill="#f9983a" stroke="#f9983a"/>
<circle cx="456.9" cy="90.5" r="2.05" fill="#f4ed27" stroke="#f4ed27"/>
<circle cx="456.9" cy="99.5" r="2.05" fill="#c63f7f" stroke="#c63f7f"/>
<circle cx="456.9" cy="102.5" r="2.05" fill="#f4ed27" stroke="#f4ed27"/>
<circle cx="456.9" cy="111.5" r="2.05" fill="#f4ed27" stroke="#f4ed27"/>
<circle cx="456.9" cy="115.5" r="2.05" fill="#fdc328" stroke="#fdc328"/>
<circle cx="456.9" cy="118.5" r="2.05" fill="#f9983a" stroke="#f9983a"/>
<circle cx="456.9" cy="121.1" r="2.05" fill="#f9983a" stroke="#f9983a"/>
<circle cx="469.5" cy="55.5" r="2.05" fill="#c63f7f" stroke="#c63f7f"/>
<circle cx="469.5" cy="71.5" r="2.05" fill="#f4ed27" stroke="#f4ed27"/>
<circle cx="469.5" cy="76.5" r="2.05" fill="#8b0aa5" stroke="#8b0aa5"/>
<circle cx="469.5" cy="91.5" r="2.05" fill="#f4ed27" stroke="#f4ed27"/>
<circle cx="469.5" cy="96.5" r="2.05" fill="#f9983a" stroke="#f9983a"/>
<circle cx="469.5" cy="97.5" r="2.05" fill="#f9983a" stroke="#f9983a"/>
<circle cx="469.5" cy="100.5" r="2.05" fill="#c63f7f" stroke="#c63f7f"/>
<circle cx="469.5" cy="108.5" r="2.05" fill="#c63f7f" stroke="#c63f7f"/>
<circle cx="469.5" cy="111.5" r="2.05" fill="#f9983a" stroke="#f9983a"/>
<circle cx="469.5" cy="115.1" r="2.05" fill="#f9983a" stroke="#f9983a"/>
<circle cx="469.5" cy="124.1" r="2.05" fill="#f4ed27" stroke="#f4ed27"/>
<circle cx="469.5" cy="127.5" r="2.05" fill="#f4ed27" stroke="#f4ed27"/>
<circle cx="482.1" cy="78.5" r="2.05" fill="#c63f7f" stroke="#c63f7f"/>
<circle cx="482.1" cy="83.5" r="2.05" fill="#fdc328" stroke="#fdc328"/>
<circle cx="482.1" cy="89.1" r="2.05" fill="#8b0aa5" stroke="#8b0aa5"/>
<circle cx="482.1" cy="92.5" r="2.05" fill="#f4ed27" stroke="#f4ed27"/>
<circle cx="482.1" cy="97.5" r="2.05" fill="#f9983a" stroke="#f9983a"/>
<circle cx="482.1" cy="101.5" r="2.05" fill="#f4ed27" stroke="#f4ed27"/>
<circle cx="482.1" cy="113.1" r="2.05" fill="#c63f7f" stroke="#c63f7f"/>
<circle cx="482.1" cy="116.1" r="2.05" fill="#f9983a" stroke="#f9983a"/>
<circle cx="482.1" cy="119.1" r="2.05" fill="#f9983a" stroke="#f9983a"/>
<circle cx="482.1" cy="121.9" r="2.05" fill="#c63f7f" stroke="#c63f7f"/>
<circle cx="482.1" cy="136.9" r="2.05" fill="#f4ed27" stroke="#f4ed27"/>
<circle cx="482.1" cy="143.5" r="2.05" fill="#f4ed27" stroke="#f4ed27"/>
<circle cx="494.8" cy="66.9" r="2.05" fill="#c63f7f" stroke="#c63f7f"/>
<circle cx="494.8" cy="81.1" r="2.05" fill="#c63f7f" stroke="#c63f7f"/>
<circle cx="494.8" cy="90.5" r="2.05" fill="#f4ed27" stroke="#f4ed27"/>
<circle cx="494.8" cy="95.5" r="2.05" fill="#8b0aa5" stroke="#8b0aa5"/>
<circle cx="494.8" cy="98.5" r="2.05" fill="#f9983a" stroke="#f9983a"/>
<circle cx="494.8" cy="106.5" r="2.05" fill="#f9983a" stroke="#f9983a"/>
<circle cx="494.8" cy="115.5" r="2.05" fill="#f4ed27" stroke="#f4ed27"/>
<circle cx="494.8" cy="118.5" r="2.05" fill="#f9983a" stroke="#f9983a"/>
<circle cx="494.8" cy="121.1" r="2.05" fill="#fdc328" stroke="#fdc328"/>
<circle cx="494.8" cy="132.5" r="2.05" fill="#f9983a" stroke="#f9983a"/>
<circle cx="494.8" cy="135.1" r="2.05" fill="#c63f7f" stroke="#c63f7f"/>
<circle cx="494.8" cy="137.5" r="2.05" fill="#f9983a" stroke="#f9983a"/>
<circle cx="494.8" cy="154.9" r="2.05" fill="#f4ed27" stroke="#f4ed27"/>
<circle cx="507.5" cy="87.1" r="2.05" fill="#8b0aa5" stroke="#8b0aa5"/>
<circle cx="507.5" cy="99.9" r="2.05" fill="#f9983a" stroke="#f9983a"/>
<circle cx="507.5" cy="104.5" r="2.05" fill="#f9983a" stroke="#f9983a"/>
<circle cx="507.5" cy="111.1" r="2.05" fill="#f9983a" stroke="#f9983a"/>
<circle cx="507.5" cy="114.5" r="2.05" fill="#f4ed27" stroke="#f4ed27"/>
<circle cx="507.5" cy="121.5" r="2.05" fill="#c63f7f" stroke="#c63f7f"/>
<circle cx="507.5" cy="125.5" r="2.05" fill="#f9983a" stroke="#f9983a"/>
<circle cx="507.5" cy="128.5" r="2.05" fill="#f9983a" stroke="#f9983a"/>
<circle cx="507.5" cy="131.5" r="2.05" fill="#fdc328" stroke="#fdc328"/>
<circle cx="507.5" cy="135.5" r="2.05" fill="#f4ed27" stroke="#f4ed27"/>
<circle cx="507.5" cy="141.1" r="2.05" fill="#f9983a" stroke="#f9983a"/>
<circle cx="507.5" cy="146.9" r="2.05" fill="#c63f7f" stroke="#c63f7f"/>
<circle cx="520.1" cy="105.9" r="2.05" fill="#f9983a" stroke="#f9983a"/>
<circle cx="520.1" cy="118.1" r="2.05" fill="#c63f7f" stroke="#c63f7f"/>
<circle cx="520.1" cy="120.5" r="2.05" fill="#8b0aa5" stroke="#8b0aa5"/>
<circle cx="520.1" cy="127.5" r="2.05" fill="#f4ed27" stroke="#f4ed27"/>
<circle cx="520.1" cy="132.5" r="2.05" fill="#f4ed27" stroke="#f4ed27"/>
<circle cx="520.1" cy="137.5" r="2.05" fill="#f4ed27" stroke="#f4ed27"/>
<circle cx="520.1" cy="143.5" r="2.05" fill="#f9983a" stroke="#f9983a"/>
<circle cx="520.1" cy="147.1" r="2.05" fill="#c63f7f" stroke="#c63f7f"/>
<circle cx="520.1" cy="172.5" r="2.05" fill="#f4ed27" stroke="#f4ed27"/>
<circle cx="532.8" cy="104.5" r="2.05" fill="#fdc328" stroke="#fdc328"/>
<circle cx="532.8" cy="116.9" r="2.05" fill="#c63f7f" stroke="#c63f7f"/>
<circle cx="532.8" cy="127.5" r="2.05" fill="#f9983a" stroke="#f9983a"/>
<circle cx="532.8" cy="131.1" r="2.05" fill="#8b0aa5" stroke="#8b0aa5"/>
<circle cx="532.8" cy="134.5" r="2.05" fill="#f4ed27" stroke="#f4ed27"/>
<circle cx="532.8" cy="141.9" r="2.05" fill="#f9983a" stroke="#f9983a"/>
<circle cx="532.8" cy="145.5" r="2.05" fill="#f9983a" stroke="#f9983a"/>
<circle cx="532.8" cy="149.5" r="2.05" fill="#fdc328" stroke="#fdc328"/>
<circle cx="532.8" cy="157.5" r="2.05" fill="#f4ed27" stroke="#f4ed27"/>
<circle cx="545.4" cy="119.9" r="2.05" fill="#8b0aa5" stroke="#8b0aa5"/>
<circle cx="545.4" cy="127.5" r="2.05" fill="#f9983a" stroke="#f9983a"/>
<circle cx="545.4" cy="130.5" r="2.05" fill="#fdc328" stroke="#fdc328"/>
<circle cx="545.4" cy="137.1" r="2.05" fill="#c63f7f" stroke="#c63f7f"/>
<circle cx="545.4" cy="142.5" r="2.05" fill="#f9983a" stroke="#f9983a"/>
<circle cx="545.4" cy="152.5" r="2.05" fill="#c63f7f" stroke="#c63f7f"/>
<circle cx="545.4" cy="154.9" r="2.05" fill="#c63f7f" stroke="#c63f7f"/>
<circle cx="545.4" cy="160.5" r="2.05" fill="#f4ed27" stroke="#f4ed27"/>
<circle cx="545.4" cy="165.5" r="2.05" fill="#f4ed27" stroke="#f4ed27"/>
<circle cx="558.0" cy="145.5" r="2.05" fill="#f9983a" stroke="#f9983a"/>
<circle cx="558.0" cy="148.5" r="2.05" fill="#f9983a" stroke="#f9983a"/>
<circle cx="558.0" cy="151.9" r="2.05" fill="#c63f7f" stroke="#c63f7f"/>
<circle cx="558.0" cy="159.5" r="2.05" fill="#f9983a" stroke="#f9983a"/>
<circle cx="558.0" cy="163.5" r="2.05" fill="#f9983a" stroke="#f9983a"/>
<circle cx="558.0" cy="166.5" r="2.05" fill="#fdc328" stroke="#fdc328"/>
<circle cx="558.0" cy="168.5" r="2.05" fill="#f4ed27" stroke="#f4ed27"/>
<circle cx="558.0" cy="183.9" r="2.05" fill="#8b0aa5" stroke="#8b0aa5"/>
<circle cx="570.7" cy="144.5" r="2.05" fill="#f9983a" stroke="#f9983a"/>
<circle cx="570.7" cy="159.5" r="2.05" fill="#f9983a" stroke="#f9983a"/>
<circle cx="570.7" cy="162.5" r="2.05" fill="#f9983a" stroke="#f9983a"/>
<circle cx="570.7" cy="165.5" r="2.05" fill="#f9983a" stroke="#f9983a"/>
<circle cx="570.7" cy="168.5" r="2.05" fill="#c63f7f" stroke="#c63f7f"/>
<circle cx="570.7" cy="172.5" r="2.05" fill="#f9983a" stroke="#f9983a"/>
<circle cx="570.7" cy="175.5" r="2.05" fill="#f9983a" stroke="#f9983a"/>
<circle cx="570.7" cy="178.5" r="2.05" fill="#8b0aa5" stroke="#8b0aa5"/>
<circle cx="570.7" cy="180.5" r="2.05" fill="#f4ed27" stroke="#f4ed27"/>
<circle cx="570.7" cy="196.9" r="2.05" fill="#f4ed27" stroke="#f4ed27"/>
<circle cx="583.4" cy="168.1" r="2.05" fill="#c63f7f" stroke="#c63f7f"/>
<circle cx="583.4" cy="175.5" r="2.05" fill="#c63f7f" stroke="#c63f7f"/>
<circle cx="583.4" cy="179.5" r="2.05" fill="#f9983a" stroke="#f9983a"/>
<circle cx="583.4" cy="182.5" r="2.05" fill="#f9983a" stroke="#f9983a"/>
<circle cx="583.4" cy="184.9" r="2.05" fill="#c63f7f" stroke="#c63f7f"/>
<circle cx="583.4" cy="187.9" r="2.05" fill="#f9983a" stroke="#f9983a"/>
<circle cx="583.4" cy="190.5" r="2.05" fill="#8b0aa5" stroke="#8b0aa5"/>
<circle cx="583.4" cy="193.5" r="2.05" fill="#f9983a" stroke="#f9983a"/>
<circle cx="583.4" cy="196.9" r="2.05" fill="#f9983a" stroke="#f9983a"/>
<circle cx="583.4" cy="200.5" r="2.05" fill="#f4ed27" stroke="#f4ed27"/>
<circle cx="583.4" cy="203.5" r="2.05" fill="#f4ed27" stroke="#f4ed27"/>
</g>
<path d="M343.0 131.0C345.1 128.2 351.2 119.5 355.4 114.0C359.6 108.5 364.1 103.0 368.4 98.0C372.7 93.0 376.8 87.7 381.0 84.0C385.2 80.3 389.4 77.7 393.6 76.0C397.8 74.3 402.2 74.0 406.4 74.0C410.6 74.0 414.4 74.8 418.6 76.0C422.8 77.2 427.2 79.2 431.4 81.0C435.6 82.8 439.7 85.0 444.0 87.0C448.3 89.0 452.8 91.2 457.0 93.3C461.2 95.4 465.2 97.2 469.4 99.5C473.6 101.8 477.7 104.6 482.0 107.0C486.3 109.4 490.8 111.7 495.0 114.0C499.2 116.3 503.2 118.6 507.4 121.0C511.6 123.4 515.8 125.8 520.0 128.5C524.2 131.2 528.4 133.8 532.6 137.0C536.8 140.2 541.2 144.2 545.4 148.0C549.6 151.8 553.8 156.0 558.0 160.0C562.2 164.0 566.4 167.8 570.6 172.0C574.8 176.2 580.9 182.8 583.0 185.0" fill="none" stroke="#3366ff" stroke-width="1.35"/>
<path d="M331.5 11.5H595.5V207.0H331.5Z" fill="none" stroke="#555" stroke-width="1"/>
<line x1="328.7" x2="331.5" y1="11.5" y2="11.5" stroke="#333"/>
<text class="tg" x="326.5" y="15.9" text-anchor="end">24</text>
<line x1="328.7" x2="331.5" y1="44.1" y2="44.1" stroke="#333"/>
<text class="tg" x="326.5" y="48.5" text-anchor="end">20</text>
<line x1="328.7" x2="331.5" y1="76.7" y2="76.7" stroke="#333"/>
<text class="tg" x="326.5" y="81.1" text-anchor="end">16</text>
<line x1="328.7" x2="331.5" y1="109.3" y2="109.3" stroke="#333"/>
<text class="tg" x="326.5" y="113.7" text-anchor="end">12</text>
<line x1="328.7" x2="331.5" y1="141.9" y2="141.9" stroke="#333"/>
<text class="tg" x="326.5" y="146.3" text-anchor="end">8</text>
<line x1="328.7" x2="331.5" y1="174.5" y2="174.5" stroke="#333"/>
<text class="tg" x="326.5" y="178.9" text-anchor="end">4</text>
<line x1="328.7" x2="331.5" y1="207.1" y2="207.1" stroke="#333"/>
<text class="tg" x="326.5" y="211.5" text-anchor="end">0</text>
<line x1="343.0" x2="343.0" y1="207.0" y2="210" stroke="#333"/>
<line x1="368.4" x2="368.4" y1="207.0" y2="210" stroke="#333"/>
<line x1="393.7" x2="393.7" y1="207.0" y2="210" stroke="#333"/>
<line x1="419.1" x2="419.1" y1="207.0" y2="210" stroke="#333"/>
<line x1="444.4" x2="444.4" y1="207.0" y2="210" stroke="#333"/>
<line x1="469.8" x2="469.8" y1="207.0" y2="210" stroke="#333"/>
<line x1="495.1" x2="495.1" y1="207.0" y2="210" stroke="#333"/>
<line x1="520.5" x2="520.5" y1="207.0" y2="210" stroke="#333"/>
<line x1="545.8" x2="545.8" y1="207.0" y2="210" stroke="#333"/>
<line x1="571.1" x2="571.1" y1="207.0" y2="210" stroke="#333"/>
<text x="338.9" y="25" font-size="16.5px" stroke="#000" stroke-width="0.3">b</text>
<text x="554.3" y="27.4" font-size="9px" fill="#111">AOD</text>
<rect x="554.3" y="32.0" width="14.2" height="69.0" fill="url(#pl)"/>
<path d="M554.3 36.8h3M568.5 36.8h-3" stroke="#fff" stroke-width="0.6"/>
<text class="cb" x="572.3" y="39.6">2.0</text>
<path d="M554.3 54.2h3M568.5 54.2h-3" stroke="#fff" stroke-width="0.6"/>
<text class="cb" x="572.3" y="57.0">1.5</text>
<path d="M554.3 71.6h3M568.5 71.6h-3" stroke="#fff" stroke-width="0.6"/>
<text class="cb" x="572.3" y="74.4">1.0</text>
<path d="M554.3 89.0h3M568.5 89.0h-3" stroke="#fff" stroke-width="0.6"/>
<text class="cb" x="572.3" y="91.8">0.5</text>
</g>
<g id="panel-d">
<g stroke-width="0.9" fill-opacity="0.48" stroke-opacity="0.8">
<circle cx="341.2" cy="338.6" r="2.05" fill="#0d0887" stroke="#0d0887"/>
<circle cx="341.2" cy="341.4" r="2.05" fill="#c63f7f" stroke="#c63f7f"/>
<circle cx="341.2" cy="343.6" r="2.05" fill="#f9983a" stroke="#f9983a"/>
<circle cx="341.2" cy="346.4" r="2.05" fill="#c63f7f" stroke="#c63f7f"/>
<circle cx="341.2" cy="348.6" r="2.05" fill="#8b0aa5" stroke="#8b0aa5"/>
<circle cx="341.2" cy="351.4" r="2.05" fill="#c63f7f" stroke="#c63f7f"/>
<circle cx="341.2" cy="353.4" r="2.05" fill="#f9983a" stroke="#f9983a"/>
<circle cx="341.2" cy="357.0" r="2.05" fill="#f4ed27" stroke="#f4ed27"/>
<circle cx="341.2" cy="359.4" r="2.05" fill="#f4ed27" stroke="#f4ed27"/>
<circle cx="341.2" cy="362.0" r="2.05" fill="#f4ed27" stroke="#f4ed27"/>
<circle cx="341.2" cy="364.4" r="2.05" fill="#fdc328" stroke="#fdc328"/>
<circle cx="341.2" cy="366.4" r="2.05" fill="#f4ed27" stroke="#f4ed27"/>
<circle cx="365.4" cy="329.6" r="2.05" fill="#c63f7f" stroke="#c63f7f"/>
<circle cx="365.4" cy="332.5" r="2.05" fill="#0d0887" stroke="#0d0887"/>
<circle cx="365.4" cy="336.5" r="2.05" fill="#8b0aa5" stroke="#8b0aa5"/>
<circle cx="365.4" cy="341.0" r="2.05" fill="#c63f7f" stroke="#c63f7f"/>
<circle cx="365.4" cy="345.0" r="2.05" fill="#f9983a" stroke="#f9983a"/>
<circle cx="365.4" cy="348.0" r="2.05" fill="#f9983a" stroke="#f9983a"/>
<circle cx="365.4" cy="352.4" r="2.05" fill="#f9983a" stroke="#f9983a"/>
<circle cx="365.4" cy="359.4" r="2.05" fill="#fdc328" stroke="#fdc328"/>
<circle cx="365.4" cy="366.0" r="2.05" fill="#f4ed27" stroke="#f4ed27"/>
<circle cx="365.4" cy="367.4" r="2.05" fill="#fdc328" stroke="#fdc328"/>
<circle cx="365.4" cy="372.0" r="2.05" fill="#fdc328" stroke="#fdc328"/>
<circle cx="365.4" cy="385.4" r="2.05" fill="#f4ed27" stroke="#f4ed27"/>
<circle cx="389.6" cy="313.4" r="2.05" fill="#fdc328" stroke="#fdc328"/>
<circle cx="389.6" cy="327.4" r="2.05" fill="#c63f7f" stroke="#c63f7f"/>
<circle cx="389.6" cy="329.4" r="2.05" fill="#c63f7f" stroke="#c63f7f"/>
<circle cx="389.6" cy="331.0" r="2.05" fill="#0d0887" stroke="#0d0887"/>
<circle cx="389.6" cy="341.0" r="2.05" fill="#c63f7f" stroke="#c63f7f"/>
<circle cx="389.6" cy="343.0" r="2.05" fill="#f9983a" stroke="#f9983a"/>
<circle cx="389.6" cy="345.0" r="2.05" fill="#c63f7f" stroke="#c63f7f"/>
<circle cx="389.6" cy="354.4" r="2.05" fill="#f4ed27" stroke="#f4ed27"/>
<circle cx="389.6" cy="355.0" r="2.05" fill="#fdc328" stroke="#fdc328"/>
<circle cx="389.6" cy="363.6" r="2.05" fill="#f9983a" stroke="#f9983a"/>
<circle cx="389.6" cy="365.4" r="2.05" fill="#f9983a" stroke="#f9983a"/>
<circle cx="389.6" cy="375.4" r="2.05" fill="#f4ed27" stroke="#f4ed27"/>
<circle cx="389.6" cy="377.6" r="2.05" fill="#fdc328" stroke="#fdc328"/>
<circle cx="413.9" cy="220.6" r="2.05" fill="#0d0887" stroke="#0d0887"/>
<circle cx="413.9" cy="229.6" r="2.05" fill="#c63f7f" stroke="#c63f7f"/>
<circle cx="413.9" cy="250.4" r="2.05" fill="#8b0aa5" stroke="#8b0aa5"/>
<circle cx="413.9" cy="266.6" r="2.05" fill="#f9983a" stroke="#f9983a"/>
<circle cx="413.9" cy="303.0" r="2.05" fill="#8b0aa5" stroke="#8b0aa5"/>
<circle cx="413.9" cy="307.4" r="2.05" fill="#c63f7f" stroke="#c63f7f"/>
<circle cx="413.9" cy="313.4" r="2.05" fill="#f9983a" stroke="#f9983a"/>
<circle cx="413.9" cy="316.0" r="2.05" fill="#f4ed27" stroke="#f4ed27"/>
<circle cx="413.9" cy="321.4" r="2.05" fill="#fdc328" stroke="#fdc328"/>
<circle cx="413.9" cy="325.4" r="2.05" fill="#c63f7f" stroke="#c63f7f"/>
<circle cx="413.9" cy="333.0" r="2.05" fill="#c63f7f" stroke="#c63f7f"/>
<circle cx="413.9" cy="339.4" r="2.05" fill="#f9983a" stroke="#f9983a"/>
<circle cx="413.9" cy="343.6" r="2.05" fill="#f9983a" stroke="#f9983a"/>
<circle cx="413.9" cy="348.6" r="2.05" fill="#f4ed27" stroke="#f4ed27"/>
<circle cx="413.9" cy="356.6" r="2.05" fill="#fdc328" stroke="#fdc328"/>
<circle cx="413.9" cy="370.4" r="2.05" fill="#fdc328" stroke="#fdc328"/>
<circle cx="438.1" cy="259.0" r="2.05" fill="#0d0887" stroke="#0d0887"/>
<circle cx="438.1" cy="267.6" r="2.05" fill="#c63f7f" stroke="#c63f7f"/>
<circle cx="438.1" cy="279.0" r="2.05" fill="#f9983a" stroke="#f9983a"/>
<circle cx="438.1" cy="284.4" r="2.05" fill="#c63f7f" stroke="#c63f7f"/>
<circle cx="438.1" cy="303.0" r="2.05" fill="#8b0aa5" stroke="#8b0aa5"/>
<circle cx="438.1" cy="311.4" r="2.05" fill="#f4ed27" stroke="#f4ed27"/>
<circle cx="438.1" cy="329.0" r="2.05" fill="#8b0aa5" stroke="#8b0aa5"/>
<circle cx="438.1" cy="338.0" r="2.05" fill="#c63f7f" stroke="#c63f7f"/>
<circle cx="438.1" cy="343.6" r="2.05" fill="#f4ed27" stroke="#f4ed27"/>
<circle cx="438.1" cy="355.0" r="2.05" fill="#f9983a" stroke="#f9983a"/>
<circle cx="438.1" cy="362.4" r="2.05" fill="#fdc328" stroke="#fdc328"/>
<circle cx="438.1" cy="367.6" r="2.05" fill="#f4ed27" stroke="#f4ed27"/>
<circle cx="438.1" cy="375.4" r="2.05" fill="#fdc328" stroke="#fdc328"/>
<circle cx="438.1" cy="375.8" r="2.05" fill="#f9983a" stroke="#f9983a"/>
<circle cx="462.2" cy="273.0" r="2.05" fill="#c63f7f" stroke="#c63f7f"/>
<circle cx="462.2" cy="301.4" r="2.05" fill="#c63f7f" stroke="#c63f7f"/>
<circle cx="462.2" cy="302.6" r="2.05" fill="#0d0887" stroke="#0d0887"/>
<circle cx="462.2" cy="306.0" r="2.05" fill="#f4ed27" stroke="#f4ed27"/>
<circle cx="462.2" cy="323.0" r="2.05" fill="#f4ed27" stroke="#f4ed27"/>
<circle cx="462.2" cy="335.6" r="2.05" fill="#8b0aa5" stroke="#8b0aa5"/>
<circle cx="462.2" cy="341.4" r="2.05" fill="#f9983a" stroke="#f9983a"/>
<circle cx="462.2" cy="347.0" r="2.05" fill="#f4ed27" stroke="#f4ed27"/>
<circle cx="462.2" cy="348.4" r="2.05" fill="#f4ed27" stroke="#f4ed27"/>
<circle cx="462.2" cy="365.0" r="2.05" fill="#8b0aa5" stroke="#8b0aa5"/>
<circle cx="462.2" cy="371.6" r="2.05" fill="#c63f7f" stroke="#c63f7f"/>
<circle cx="462.2" cy="381.4" r="2.05" fill="#f9983a" stroke="#f9983a"/>
<circle cx="462.2" cy="389.4" r="2.05" fill="#fdc328" stroke="#fdc328"/>
<circle cx="462.2" cy="390.0" r="2.05" fill="#f4ed27" stroke="#f4ed27"/>
<circle cx="486.4" cy="306.6" r="2.05" fill="#fdc328" stroke="#fdc328"/>
<circle cx="486.4" cy="321.0" r="2.05" fill="#0d0887" stroke="#0d0887"/>
<circle cx="486.4" cy="327.0" r="2.05" fill="#c63f7f" stroke="#c63f7f"/>
<circle cx="486.4" cy="334.6" r="2.05" fill="#f9983a" stroke="#f9983a"/>
<circle cx="486.4" cy="335.0" r="2.05" fill="#fdc328" stroke="#fdc328"/>
<circle cx="486.4" cy="347.0" r="2.05" fill="#c63f7f" stroke="#c63f7f"/>
<circle cx="486.4" cy="348.6" r="2.05" fill="#c63f7f" stroke="#c63f7f"/>
<circle cx="486.4" cy="358.6" r="2.05" fill="#8b0aa5" stroke="#8b0aa5"/>
<circle cx="486.4" cy="364.4" r="2.05" fill="#f9983a" stroke="#f9983a"/>
<circle cx="486.4" cy="380.6" r="2.05" fill="#fdc328" stroke="#fdc328"/>
<circle cx="486.4" cy="393.4" r="2.05" fill="#fdc328" stroke="#fdc328"/>
<circle cx="486.4" cy="400.0" r="2.05" fill="#f4ed27" stroke="#f4ed27"/>
<circle cx="510.6" cy="332.4" r="2.05" fill="#c63f7f" stroke="#c63f7f"/>
<circle cx="510.6" cy="343.0" r="2.05" fill="#8b0aa5" stroke="#8b0aa5"/>
<circle cx="510.6" cy="347.0" r="2.05" fill="#f9983a" stroke="#f9983a"/>
<circle cx="510.6" cy="348.0" r="2.05" fill="#c63f7f" stroke="#c63f7f"/>
<circle cx="510.6" cy="350.0" r="2.05" fill="#0d0887" stroke="#0d0887"/>
<circle cx="510.6" cy="356.4" r="2.05" fill="#f4ed27" stroke="#f4ed27"/>
<circle cx="510.6" cy="361.6" r="2.05" fill="#f9983a" stroke="#f9983a"/>
<circle cx="510.6" cy="371.0" r="2.05" fill="#f4ed27" stroke="#f4ed27"/>
<circle cx="510.6" cy="372.6" r="2.05" fill="#fdc328" stroke="#fdc328"/>
<circle cx="510.6" cy="382.4" r="2.05" fill="#fdc328" stroke="#fdc328"/>
<circle cx="510.6" cy="398.6" r="2.05" fill="#f4ed27" stroke="#f4ed27"/>
<circle cx="510.6" cy="401.0" r="2.05" fill="#c63f7f" stroke="#c63f7f"/>
<circle cx="534.9" cy="311.4" r="2.05" fill="#c63f7f" stroke="#c63f7f"/>
<circle cx="534.9" cy="321.6" r="2.05" fill="#0d0887" stroke="#0d0887"/>
<circle cx="534.9" cy="361.4" r="2.05" fill="#8b0aa5" stroke="#8b0aa5"/>
<circle cx="534.9" cy="366.0" r="2.05" fill="#c63f7f" stroke="#c63f7f"/>
<circle cx="534.9" cy="368.4" r="2.05" fill="#f9983a" stroke="#f9983a"/>
<circle cx="534.9" cy="371.0" r="2.05" fill="#f9983a" stroke="#f9983a"/>
<circle cx="534.9" cy="382.4" r="2.05" fill="#f4ed27" stroke="#f4ed27"/>
<circle cx="534.9" cy="393.4" r="2.05" fill="#f4ed27" stroke="#f4ed27"/>
<circle cx="534.9" cy="404.0" r="2.05" fill="#f9983a" stroke="#f9983a"/>
<circle cx="534.9" cy="407.0" r="2.05" fill="#c63f7f" stroke="#c63f7f"/>
<circle cx="534.9" cy="412.0" r="2.05" fill="#f4ed27" stroke="#f4ed27"/>
<circle cx="559.0" cy="341.6" r="2.05" fill="#f4ed27" stroke="#f4ed27"/>
<circle cx="559.0" cy="350.4" r="2.05" fill="#0d0887" stroke="#0d0887"/>
<circle cx="559.0" cy="361.0" r="2.05" fill="#fdc328" stroke="#fdc328"/>
<circle cx="559.0" cy="363.0" r="2.05" fill="#f9983a" stroke="#f9983a"/>
<circle cx="559.0" cy="365.0" r="2.05" fill="#c63f7f" stroke="#c63f7f"/>
<circle cx="559.0" cy="373.0" r="2.05" fill="#f9983a" stroke="#f9983a"/>
<circle cx="559.0" cy="375.6" r="2.05" fill="#c63f7f" stroke="#c63f7f"/>
<circle cx="559.0" cy="379.4" r="2.05" fill="#f4ed27" stroke="#f4ed27"/>
<circle cx="559.0" cy="388.4" r="2.05" fill="#f9983a" stroke="#f9983a"/>
<circle cx="583.2" cy="359.6" r="2.05" fill="#c63f7f" stroke="#c63f7f"/>
<circle cx="583.2" cy="363.0" r="2.05" fill="#8b0aa5" stroke="#8b0aa5"/>
<circle cx="583.2" cy="365.0" r="2.05" fill="#c63f7f" stroke="#c63f7f"/>
<circle cx="583.2" cy="366.0" r="2.05" fill="#f4ed27" stroke="#f4ed27"/>
<circle cx="583.2" cy="368.0" r="2.05" fill="#f4ed27" stroke="#f4ed27"/>
<circle cx="583.2" cy="370.0" r="2.05" fill="#f9983a" stroke="#f9983a"/>
<circle cx="583.2" cy="373.0" r="2.05" fill="#c63f7f" stroke="#c63f7f"/>
<circle cx="583.2" cy="379.0" r="2.05" fill="#f4ed27" stroke="#f4ed27"/>
<circle cx="583.2" cy="384.0" r="2.05" fill="#f9983a" stroke="#f9983a"/>
</g>
<path d="M341.4 354.6C343.3 354.3 349.0 353.8 353.0 353.0C357.0 352.2 361.4 351.4 365.6 350.0C369.8 348.6 374.0 346.5 378.0 344.5C382.0 342.5 385.6 340.3 389.6 338.0C393.6 335.7 397.9 332.8 402.0 330.5C406.1 328.2 410.3 325.4 414.0 324.0C417.7 322.6 420.0 321.5 424.0 322.0C428.0 322.5 433.7 325.2 438.0 327.0C442.3 328.8 446.0 330.3 450.0 332.5C454.0 334.7 457.7 337.5 462.0 340.0C466.3 342.5 471.9 345.2 476.0 347.5C480.1 349.8 482.7 351.9 486.4 354.0C490.1 356.1 494.0 358.1 498.0 360.0C502.0 361.9 506.6 363.9 510.6 365.5C514.6 367.1 518.0 368.4 522.0 369.3C526.0 370.2 530.4 370.7 534.6 371.0C538.8 371.3 542.9 371.3 547.0 371.3C551.1 371.3 555.0 371.2 559.0 371.0C563.0 370.8 567.0 370.5 571.0 370.2C575.0 369.9 581.0 369.5 583.0 369.4" fill="none" stroke="#3366ff" stroke-width="1.35"/>
<path d="M330.0 218.0H595.5V413.5H330.0Z" fill="none" stroke="#555" stroke-width="1"/>
<line x1="327.7" x2="330.0" y1="230.5" y2="230.5" stroke="#333"/>
<text class="tg" x="325.5" y="234.9" text-anchor="end">5</text>
<line x1="327.7" x2="330.0" y1="256.6" y2="256.6" stroke="#333"/>
<text class="tg" x="325.5" y="261.0" text-anchor="end">4</text>
<line x1="327.7" x2="330.0" y1="282.8" y2="282.8" stroke="#333"/>
<text class="tg" x="325.5" y="287.2" text-anchor="end">3</text>
<line x1="327.7" x2="330.0" y1="308.9" y2="308.9" stroke="#333"/>
<text class="tg" x="325.5" y="313.3" text-anchor="end">2</text>
<line x1="327.7" x2="330.0" y1="335.1" y2="335.1" stroke="#333"/>
<text class="tg" x="325.5" y="339.5" text-anchor="end">1</text>
<line x1="327.7" x2="330.0" y1="361.2" y2="361.2" stroke="#333"/>
<text class="tg" x="325.5" y="365.6" text-anchor="end">0</text>
<line x1="327.7" x2="330.0" y1="387.4" y2="387.4" stroke="#333"/>
<text class="tg" x="325.5" y="391.8" text-anchor="end">-1</text>
<line x1="327.7" x2="330.0" y1="413.5" y2="413.5" stroke="#333"/>
<text class="tg" x="325.5" y="417.9" text-anchor="end">-2</text>
<line x1="341.2" x2="341.2" y1="413.5" y2="416.2" stroke="#333"/>
<text class="tg" x="341.2" y="427" text-anchor="middle">08</text>
<line x1="365.4" x2="365.4" y1="413.5" y2="416.2" stroke="#333"/>
<text class="tg" x="365.4" y="427" text-anchor="middle">09</text>
<line x1="389.6" x2="389.6" y1="413.5" y2="416.2" stroke="#333"/>
<text class="tg" x="389.6" y="427" text-anchor="middle">10</text>
<line x1="413.9" x2="413.9" y1="413.5" y2="416.2" stroke="#333"/>
<text class="tg" x="413.9" y="427" text-anchor="middle">11</text>
<line x1="438.1" x2="438.1" y1="413.5" y2="416.2" stroke="#333"/>
<text class="tg" x="438.1" y="427" text-anchor="middle">12</text>
<line x1="462.2" x2="462.2" y1="413.5" y2="416.2" stroke="#333"/>
<text class="tg" x="462.2" y="427" text-anchor="middle">13</text>
<line x1="486.4" x2="486.4" y1="413.5" y2="416.2" stroke="#333"/>
<text class="tg" x="486.4" y="427" text-anchor="middle">14</text>
<line x1="510.6" x2="510.6" y1="413.5" y2="416.2" stroke="#333"/>
<text class="tg" x="510.6" y="427" text-anchor="middle">15</text>
<line x1="534.9" x2="534.9" y1="413.5" y2="416.2" stroke="#333"/>
<text class="tg" x="534.9" y="427" text-anchor="middle">16</text>
<line x1="559.0" x2="559.0" y1="413.5" y2="416.2" stroke="#333"/>
<text class="tg" x="559.0" y="427" text-anchor="middle">17</text>
<line x1="583.2" x2="583.2" y1="413.5" y2="416.2" stroke="#333"/>
<text class="tg" x="583.2" y="427" text-anchor="middle">18</text>
<text x="338.9" y="233.3" font-size="16.5px" stroke="#000" stroke-width="0.3">d</text>
<text x="554.3" y="234.2" font-size="9px" fill="#111">AOD</text>
<rect x="554.3" y="238.7" width="14.2" height="69.0" fill="url(#pl)"/>
<path d="M554.3 249.0h3M568.5 249.0h-3" stroke="#fff" stroke-width="0.6"/>
<text class="cb" x="572.3" y="251.8">2.0</text>
<path d="M554.3 264.7h3M568.5 264.7h-3" stroke="#fff" stroke-width="0.6"/>
<text class="cb" x="572.3" y="267.5">1.5</text>
<path d="M554.3 280.4h3M568.5 280.4h-3" stroke="#fff" stroke-width="0.6"/>
<text class="cb" x="572.3" y="283.2">1.0</text>
<path d="M554.3 296.2h3M568.5 296.2h-3" stroke="#fff" stroke-width="0.6"/>
<text class="cb" x="572.3" y="299.0">0.5</text>
<text x="456" y="451.4" text-anchor="middle" font-size="15.6px">Time (h)</text>
</g>
</svg></body></html>
